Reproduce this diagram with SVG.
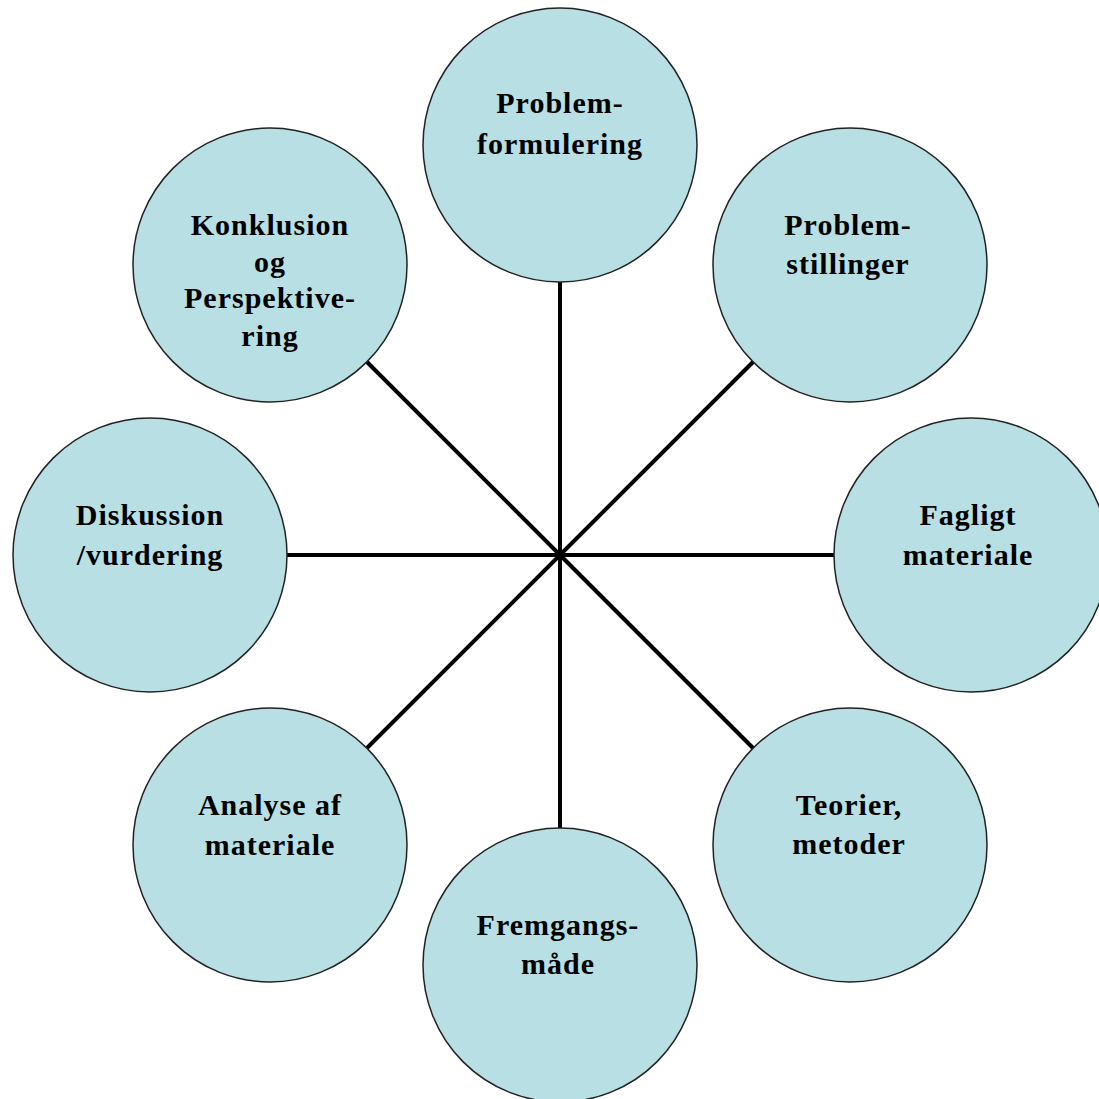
<svg xmlns="http://www.w3.org/2000/svg" width="1099" height="1099" viewBox="0 0 1099 1099">
<style>
.node circle{fill:#b8dfe3;stroke:#222;stroke-width:1.5}
.node text{font-family:"Liberation Serif","Times New Roman",serif;font-weight:bold;font-size:30px;letter-spacing:1px;fill:#000;text-anchor:middle}
.conn line{stroke:#000;stroke-width:4;stroke-linecap:butt}
</style>
<rect width="1099" height="1099" fill="#fff"/>
<g id="connectors" class="conn">
<line x1="560" y1="555" x2="560" y2="282"/>
<line x1="560" y1="555" x2="753" y2="362"/>
<line x1="560" y1="555" x2="835" y2="555"/>
<line x1="560" y1="555" x2="753" y2="748"/>
<line x1="560" y1="555" x2="560" y2="828"/>
<line x1="560" y1="555" x2="367" y2="748"/>
<line x1="560" y1="555" x2="287" y2="555"/>
<line x1="560" y1="555" x2="367" y2="362"/>
</g>
<g id="n-problemformulering" class="node">
<circle cx="560" cy="145" r="137"/>
<text x="560" y="113">Problem-</text>
<text x="560" y="154">formulering</text>
</g>
<g id="n-problemstillinger" class="node">
<circle cx="850" cy="265" r="137"/>
<text x="848" y="235">Problem-</text>
<text x="848" y="274">stillinger</text>
</g>
<g id="n-fagligt" class="node">
<circle cx="971" cy="555" r="137"/>
<text x="968" y="525">Fagligt</text>
<text x="968" y="565">materiale</text>
</g>
<g id="n-teorier" class="node">
<circle cx="850" cy="845" r="137"/>
<text x="849" y="815">Teorier,</text>
<text x="849" y="854">metoder</text>
</g>
<g id="n-fremgang" class="node">
<circle cx="560" cy="965" r="137"/>
<text x="558" y="935">Fremgangs-</text>
<text x="558" y="974">måde</text>
</g>
<g id="n-analyse" class="node">
<circle cx="270" cy="845" r="137"/>
<text x="270" y="815">Analyse af</text>
<text x="270" y="855">materiale</text>
</g>
<g id="n-diskussion" class="node">
<circle cx="150" cy="555" r="137"/>
<text x="150" y="525">Diskussion</text>
<text x="150" y="565">/vurdering</text>
</g>
<g id="n-konklusion" class="node">
<circle cx="270" cy="265" r="137"/>
<text x="270" y="235">Konklusion</text>
<text x="270" y="272">og</text>
<text x="270" y="308">Perspektive-</text>
<text x="270" y="346">ring</text>
</g>
</svg>
